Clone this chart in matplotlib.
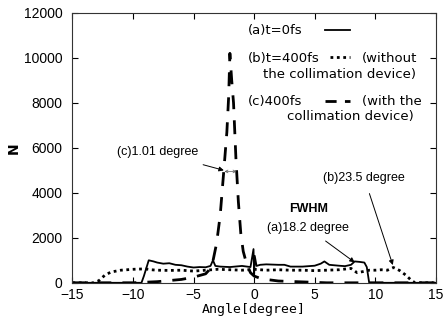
import numpy as np
import matplotlib
matplotlib.use("Agg")
import matplotlib.pyplot as plt
from matplotlib.lines import Line2D

# (a) t=0fs, solid
a_x = [-15, -9.3, -9.1, -8.7, -8.3, -8.0, -7.5, -7.0, -6.5, -6.0, -5.5, -5.0, -4.5, -4.0,
       -3.6, -3.4, -3.2, -2.8, -2.0, -1.0, -0.3, -0.05, 0.0, 0.05, 0.2, 0.5, 1.0, 2.0, 2.5,
       3.0, 4.0, 5.0, 5.5, 5.8, 6.2, 7.0, 7.5, 8.0, 8.3, 8.7, 9.1, 9.3, 9.5, 15]
a_y = [0, 0, 300, 1000, 950, 900, 850, 870, 800, 780, 720, 680, 700, 690,
       750, 1000, 750, 720, 700, 750, 700, 1500, 300, 1200, 750, 800, 820, 800, 800,
       720, 720, 760, 850, 950, 800, 760, 740, 800, 950, 930, 900, 700, 0, 0]

# (b) t=400fs without collimation, dotted
b_x = [-15, -13.2, -12.8, -12.3, -11.8, -11, -10.5, -10, -9, -8.5, -8, -7, -6, -5, -4, -3,
       -2, -1, 0, 1, 2, 3, 4, 5, 6, 7, 8, 8.5, 9, 9.5, 10, 10.5, 11, 11.5, 12, 12.5, 13,
       13.3, 15]
b_y = [0, 0, 100, 350, 480, 560, 580, 600, 620, 580, 560, 550, 560, 520, 560, 600,
       580, 560, 600, 560, 580, 560, 560, 540, 560, 580, 640, 450, 500, 560, 560, 580, 560,
       680, 550, 350, 100, 0, 0]

# (c) 400fs with collimation, dashed
c_x = [-15, -10, -8, -6, -5, -4, -3.5, -3.1, -2.8, -2.5, -2.25, -2.1, -2.0, -1.85, -1.7,
       -1.5, -1.3, -1.1, -0.9, -0.6, -0.3, 0, 0.5, 1, 2, 3, 4, 5, 6, 15]
c_y = [0, 0, 50, 150, 250, 400, 700, 1750, 3000, 5000, 6700, 8300, 10200, 9000, 8000,
       5500, 3600, 2200, 1400, 800, 450, 300, 200, 150, 80, 60, 40, 20, 0, 0]

x_ticks = [-15, -10, -5, 0, 5, 10, 15]
y_ticks = [0, 2000, 4000, 6000, 8000, 10000, 12000]

fig = plt.figure(figsize=(4.47, 3.21), dpi=100)
ax = fig.add_axes([0.162, 0.119, 0.813, 0.841])

ax.plot(a_x, a_y, color="black", lw=1.3)
ax.plot(b_x, b_y, color="black", lw=2.0, linestyle=(0, (1, 1.3)))
ax.plot(c_x, c_y, color="black", lw=2.0, linestyle=(0, (5, 4)))

ax.set_xlim(-15, 15)
ax.set_ylim(0, 12000)
ax.set_xticks(x_ticks)
ax.set_yticks(y_ticks)
ax.tick_params(direction="in", top=True, right=True, labelsize=10, length=4, width=0.8)
ax.tick_params(axis="y", pad=7)
for lbl in ax.get_xticklabels() + ax.get_yticklabels():
    lbl.set_family("Liberation Sans")
for s in ax.spines.values():
    s.set_linewidth(0.8)
    s.set_color("#333333")

ax.set_xlabel("Angle[degree]", fontsize=9.5, family="DejaVu Sans Mono", labelpad=1)
ax.set_ylabel("N", fontsize=10, family="DejaVu Sans", weight="bold", labelpad=2)

# legend-like block
lf = dict(fontsize=9.5, family="DejaVu Sans", transform=ax.transAxes, va="center")
ax.text(0.482, 0.935, "(a)t=0fs", **lf)
ax.text(0.482, 0.83, "(b)t=400fs", **lf)
ax.text(0.797, 0.83, "(without", **lf)
ax.text(0.524, 0.77, "the collimation device)", **lf)
ax.text(0.482, 0.67, "(c)400fs", **lf)
ax.text(0.797, 0.67, "(with the", **lf)
ax.text(0.59, 0.615, "collimation device)", **lf)
ax.add_line(Line2D([0.695, 0.765], [0.935, 0.935], transform=ax.transAxes, color="black", lw=1.3))
ax.add_line(Line2D([0.71, 0.765], [0.835, 0.835], transform=ax.transAxes, color="black", lw=2.0,
                   linestyle=(0, (1, 1.3))))
ax.add_line(Line2D([0.695, 0.765], [0.675, 0.675], transform=ax.transAxes, color="black", lw=2.0,
                   linestyle=(0, (4, 3))))

af = dict(fontsize=9, family="Liberation Sans", ha="center", va="center")
ax.annotate("(c)1.01 degree", xy=(-2.5, 5000), xytext=(-8.0, 5800),
            arrowprops=dict(arrowstyle="-|>", color="black", lw=0.7, shrinkA=10, shrinkB=0,
                            mutation_scale=7), **af)
ax.annotate("", xy=(-1.45, 4950), xytext=(-2.45, 4950),
            arrowprops=dict(arrowstyle="<->", color="#555555", lw=0.5, mutation_scale=5,
                            shrinkA=0, shrinkB=0))
ax.annotate("(b)23.5 degree", xy=(11.45, 790), xytext=(9.1, 4650),
            arrowprops=dict(arrowstyle="-|>", color="black", lw=0.7, shrinkA=5, shrinkB=0,
                            mutation_scale=7), **af)
ax.text(4.5, 3280, "FWHM", fontsize=9, family="Liberation Sans", weight="bold",
        ha="center", va="center")
ax.annotate("(a)18.2 degree", xy=(8.3, 910), xytext=(4.45, 2430),
            arrowprops=dict(arrowstyle="-|>", color="black", lw=0.7, shrinkA=5, shrinkB=0,
                            mutation_scale=7), **af)

plt.savefig("out.png", dpi=100)
